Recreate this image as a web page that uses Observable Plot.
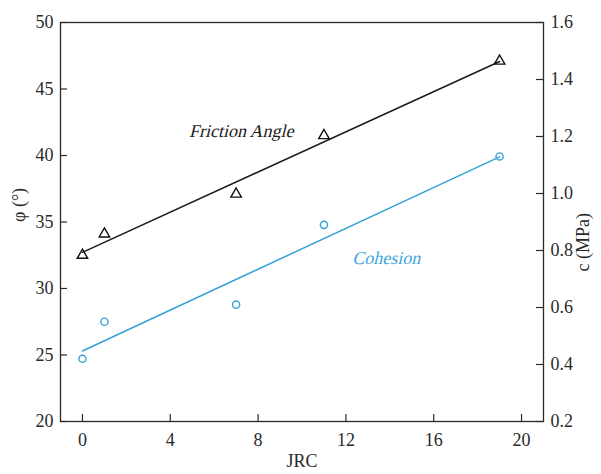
<!DOCTYPE html>
<html>
<head>
<meta charset="utf-8">
<script src="https://cdn.jsdelivr.net/npm/d3@7"></script>
<script src="https://cdn.jsdelivr.net/npm/@observablehq/plot@0.6"></script>
<style>
  html, body { margin: 0; padding: 0; background: #fff; }
  #chart svg { display: block; }
</style>
</head>
<body>
<div id="chart"></div>
<script>
// ---- data ----
const jrc = [0, 1, 7, 11, 19];
const frictionAngle = [32.5, 34.1, 37.1, 41.5, 47.1];   // φ (°), left axis
const cohesion = [0.42, 0.55, 0.61, 0.89, 1.13];         // c (MPa), right axis

const xTicks = [0, 4, 8, 12, 16, 20];
const phiTicks = [20, 25, 30, 35, 40, 45, 50];
const cTicks = [0.2, 0.4, 0.6, 0.8, 1.0, 1.2, 1.4, 1.6];

const seriesNames = ["Friction Angle", "Cohesion"];
const labelJrc = [7.3, 13.9];
const labelPhi = [41.8, 32.3];

// ---- secondary axis mapping: c (0.2–1.6) onto φ (20–50) ----
const phiDomain = [20, 50];
const cDomain = [0.2, 1.6];
const cToPhi = c => phiDomain[0] + (c - cDomain[0]) / (cDomain[1] - cDomain[0]) * (phiDomain[1] - phiDomain[0]);
const phiToC = p => cDomain[0] + (p - phiDomain[0]) / (phiDomain[1] - phiDomain[0]) * (cDomain[1] - cDomain[0]);

const friction = jrc.map((x, i) => ({x, y: frictionAngle[i]}));
const coh = jrc.map((x, i) => ({x, y: cToPhi(cohesion[i])}));
const labels = seriesNames.map((name, i) => ({name, x: labelJrc[i], y: labelPhi[i]}));

const W = 601, H = 474;
const mL = 60, mR = 58, mT = 22, mB = 53;
const innerW = W - mL - mR, innerH = H - mT - mB;
const tickLen = 7;
const ink = "#2a2a2a";
const blue = "#35a2d6";
const serif = "Liberation Serif";

const chart = Plot.plot({
  width: W, height: H,
  marginLeft: mL, marginRight: mR, marginTop: mT, marginBottom: mB,
  x: {domain: [-1, 21]},
  y: {domain: phiDomain},
  style: {fontSize: "18px", color: ink, background: "#fff"},
  marks: [
    // axes labels (tick text)
    Plot.axisX(xTicks, {tickSize: 0, tickPadding: 12, label: null, fontSize: 18, fontFamily: serif}),
    Plot.axisY(phiTicks, {anchor: "left", tickSize: 0, tickPadding: 7, label: null, fontSize: 18, fontFamily: serif}),
    Plot.axisY(cTicks.map(cToPhi), {anchor: "right", tickSize: 0, tickPadding: 7, label: null, fontSize: 18, fontFamily: serif,
      tickFormat: p => phiToC(p).toFixed(1)}),
    // inward tick marks
    Plot.tickX(xTicks, {x: d => d, insetTop: innerH - tickLen, stroke: ink, strokeWidth: 1.2}),
    Plot.tickY(phiTicks, {y: d => d, insetRight: innerW - tickLen, stroke: ink, strokeWidth: 1.2}),
    Plot.tickY(cTicks.map(cToPhi), {y: d => d, insetLeft: innerW - tickLen, stroke: ink, strokeWidth: 1.2}),
    Plot.frame({stroke: ink, strokeWidth: 1.3}),
    // fit lines
    Plot.linearRegressionY(friction, {x: "x", y: "y", ci: 0, stroke: "#1a1a1a", strokeWidth: 1.5}),
    Plot.linearRegressionY(coh, {x: "x", y: "y", ci: 0, stroke: blue, strokeWidth: 1.5}),
    // points
    Plot.dot(friction, {x: "x", y: "y", symbol: "triangle", r: 3.9, stroke: "#111", fill: "none", strokeWidth: 1.4}),
    Plot.dot(coh, {x: "x", y: "y", symbol: "circle", r: 3.6, stroke: blue, fill: "none", strokeWidth: 1.4}),
    // series annotations (slanted below)
    Plot.text(labels, {x: "x", y: "y", text: "name", fontSize: 18, fontFamily: serif, className: "series-label",
      fill: (d, i) => i === 0 ? "#1a1a1a" : "#3da6de"}),
    // axis titles
    Plot.text(["JRC"], {text: d => d, frameAnchor: "bottom", dy: 45, fontSize: 18, fontFamily: serif, fill: ink}),
    Plot.text(["φ (°)"], {text: d => d, frameAnchor: "left", dx: -41, rotate: -90, fontSize: 18, fontFamily: serif, fill: ink}),
    Plot.text(["c (MPa)"], {text: d => d, frameAnchor: "right", dx: 40, dy: -9, rotate: -90, fontSize: 18, fontFamily: serif, fill: ink})
  ]
});
// serif italic look: slant the upright serif face
chart.querySelectorAll(".series-label text").forEach(t => {
  const tr = t.getAttribute("transform") || "";
  t.setAttribute("transform", (tr + " skewX(-14)").trim());
});
document.getElementById("chart").append(chart);
</script>
</body>
</html>
